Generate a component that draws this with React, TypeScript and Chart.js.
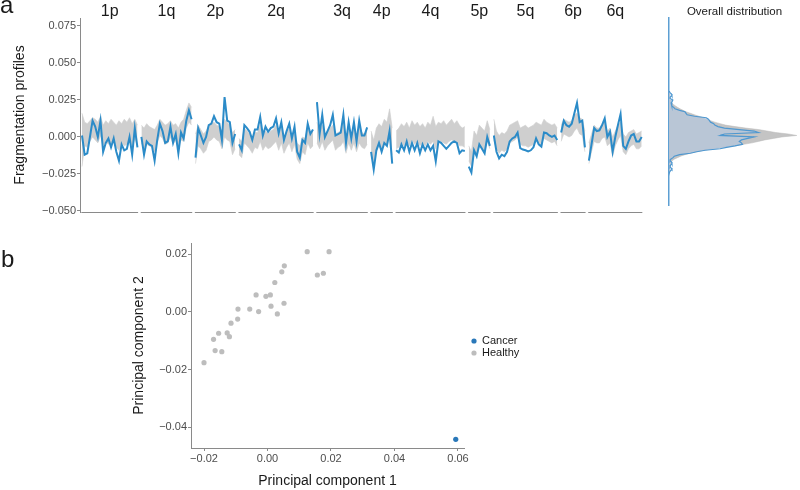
import React, { useEffect, useRef } from 'react';
import { Chart, registerables } from 'chart.js';

Chart.register(...registerables);

// ---------------- DATA ----------------
const arms = ['1p', '1q', '2p', '2q', '3q', '4p', '4q', '5p', '5q', '6p', '6q'];

// Cancer fragmentation profile, one list of bins per chromosome arm
const cancerProfile: number[][] = [
  [0.001, -0.012, -0.011, 0.000, 0.011, 0.007, 0.000, 0.011, -0.010, -0.004, -0.001, -0.007, -0.001, -0.010, -0.016, -0.005, -0.009, -0.008, 0.000, -0.012, 0.006, -0.007],
  [0.000, -0.012, -0.003, -0.005, -0.006, -0.016, -0.002, 0.009, 0.004, -0.004, -0.003, 0.007, -0.004, 0.002, -0.011, 0.003, -0.001, 0.011, 0.018, 0.012],
  [-0.014, 0.006, 0.001, -0.004, 0.000, 0.008, 0.009, 0.014, 0.010, 0.009, -0.002, 0.027, 0.011, 0.010, -0.004, 0.002],
  [-0.005, -0.009, 0.008, 0.006, 0.0035, -0.002, 0.005, 0.005, 0.0135, 0.001, 0.007, 0.0035, 0.006, 0.007, 0.0125, 0.0025, 0.010, -0.002, 0.004, 0.009, -0.001, 0.007, -0.010, -0.014, -0.002, -0.004, 0.009, 0.002, 0.005],
  [0.0235, 0.002, 0.015, 0.000, 0.004, 0.008, 0.015, 0.001, 0.002, 0.003, 0.015, -0.004, 0.010, -0.001, 0.010, -0.003, 0.011, 0.001, 0.001, 0.0065],
  [-0.010, -0.022, -0.009, -0.004, -0.010, -0.004, -0.006, 0.004, -0.018],
  [-0.009, -0.0105, -0.005, -0.009, -0.003, -0.010, -0.004, -0.009, -0.004, -0.011, -0.005, -0.009, -0.005, -0.009, -0.006, -0.0165, -0.003, -0.004, -0.006, -0.008, -0.006, -0.004, -0.003, -0.004, -0.011, -0.009, -0.0095],
  [-0.020, -0.024, -0.009, -0.013, -0.005, -0.008, -0.011, 0.000, -0.006],
  [0.001, -0.010, -0.0145, -0.012, -0.013, -0.010, -0.003, -0.001, 0.000, 0.003, -0.0075, -0.0085, -0.009, -0.0098, -0.009, -0.007, -0.001, -0.005, -0.0065, 0.003, 0.0025, 0.001, 0.000, 0.001, -0.002],
  [0.003, 0.011, 0.008, 0.007, 0.009, 0.016, 0.023, 0.010, 0.011, -0.007],
  [-0.016, -0.005, 0.006, 0.004, 0.0045, 0.008, 0.0125, 0.000, 0.0035, -0.010, 0.000, 0.008, 0.0155, -0.006, -0.008, -0.003, 0.001, 0.002, -0.003, -0.003, 0.000],
];

// Upper edge of the healthy samples' profiles
const healthyMax: number[][] = [
  [0.016, 0.010, 0.009, 0.011, 0.013, 0.012, 0.010, 0.014, 0.008, 0.011, 0.009, 0.012, 0.010, 0.008, 0.011, 0.009, 0.012, 0.010, 0.013, 0.009, 0.012, 0.008],
  [0.008, 0.006, 0.009, 0.007, 0.006, 0.005, 0.008, 0.012, 0.010, 0.008, 0.009, 0.011, 0.008, 0.009, 0.006, 0.010, 0.012, 0.018, 0.023, 0.020],
  [0.002, 0.008, 0.005, 0.002, 0.004, 0.008, 0.009, 0.010, 0.008, 0.007, 0.004, 0.012, 0.010, 0.008, 0.003, 0.005],
  [-0.001, -0.003, 0.006, 0.004, 0.002, 0.000, 0.003, 0.003, 0.008, 0.001, 0.004, 0.002, 0.004, 0.005, 0.008, 0.001, 0.006, 0.000, 0.003, 0.006, 0.000, 0.005, -0.004, -0.006, 0.000, -0.001, 0.006, 0.002, 0.004],
  [0.010, 0.003, 0.008, 0.002, 0.004, 0.006, 0.008, 0.002, 0.003, 0.004, 0.009, 0.000, 0.006, 0.001, 0.006, 0.000, 0.007, 0.003, 0.002, 0.005],
  [0.004, -0.002, 0.006, 0.009, 0.007, 0.012, 0.010, 0.019, 0.006],
  [0.004, 0.006, 0.009, 0.007, 0.010, 0.006, 0.011, 0.008, 0.010, 0.007, 0.009, 0.006, 0.010, 0.008, 0.014, 0.007, 0.010, 0.009, 0.011, 0.008, 0.010, 0.012, 0.009, 0.011, 0.008, 0.006, 0.007],
  [-0.006, -0.010, 0.004, 0.001, 0.008, 0.006, 0.004, 0.011, 0.005],
  [0.012, 0.004, 0.001, 0.003, 0.002, 0.004, 0.008, 0.009, 0.010, 0.011, 0.006, 0.007, 0.008, 0.006, 0.007, 0.008, 0.010, 0.009, 0.008, 0.012, 0.010, 0.009, 0.008, 0.009, 0.006],
  [0.008, 0.012, 0.011, 0.010, 0.011, 0.015, 0.016, 0.013, 0.012, 0.004],
  [-0.004, 0.002, 0.008, 0.006, 0.006, 0.009, 0.010, 0.004, 0.006, 0.000, 0.004, 0.008, 0.010, 0.002, 0.000, 0.003, 0.004, 0.005, 0.002, 0.003, 0.004],
];

// Lower edge of the healthy samples' profiles
const healthyMin: number[][] = [
  [-0.020, -0.006, -0.007, -0.003, 0.000, -0.002, -0.004, 0.001, -0.006, -0.003, -0.005, -0.004, -0.002, -0.007, -0.009, -0.004, -0.006, -0.005, -0.002, -0.007, -0.001, -0.006],
  [-0.004, -0.008, -0.005, -0.006, -0.007, -0.010, -0.004, 0.001, -0.001, -0.005, -0.004, 0.000, -0.005, -0.002, -0.008, -0.002, -0.003, 0.006, 0.010, 0.008],
  [-0.018, -0.006, -0.008, -0.011, -0.009, -0.003, -0.002, 0.000, -0.002, -0.003, -0.008, 0.000, -0.002, -0.003, -0.012, -0.008],
  [-0.012, -0.014, -0.004, -0.006, -0.008, -0.011, -0.007, -0.008, -0.003, -0.009, -0.006, -0.008, -0.007, -0.005, -0.003, -0.009, -0.004, -0.011, -0.007, -0.004, -0.010, -0.005, -0.015, -0.018, -0.010, -0.012, -0.004, -0.008, -0.006],
  [-0.004, -0.008, -0.003, -0.009, -0.006, -0.004, -0.002, -0.009, -0.007, -0.006, -0.003, -0.011, -0.004, -0.009, -0.004, -0.010, -0.004, -0.007, -0.008, -0.005],
  [-0.012, -0.018, -0.010, -0.006, -0.009, -0.004, -0.006, 0.000, -0.012],
  [-0.008, -0.007, -0.004, -0.006, -0.002, -0.006, -0.002, -0.005, -0.003, -0.006, -0.004, -0.006, -0.003, -0.005, -0.003, -0.008, -0.002, -0.003, -0.004, -0.005, -0.003, -0.002, -0.003, -0.003, -0.006, -0.006, -0.007],
  [-0.016, -0.020, -0.010, -0.013, -0.006, -0.008, -0.010, -0.003, -0.008],
  [-0.002, -0.008, -0.011, -0.009, -0.010, -0.008, -0.004, -0.003, -0.002, 0.000, -0.005, -0.006, -0.006, -0.007, -0.006, -0.005, -0.002, -0.004, -0.005, -0.001, -0.002, -0.003, -0.004, -0.003, -0.006],
  [-0.003, 0.002, 0.001, 0.000, 0.001, 0.004, 0.006, 0.002, 0.001, -0.010],
  [-0.018, -0.010, -0.003, -0.004, -0.004, -0.001, 0.000, -0.006, -0.004, -0.013, -0.006, -0.002, 0.001, -0.010, -0.012, -0.008, -0.006, -0.005, -0.008, -0.008, -0.006],
];

const profileTicks = [-0.05, -0.025, 0, 0.025, 0.05, 0.075];
// spacing (in bins) between the last bin of one arm and the first bin of the next
const armGap = 1.5;

// Overall distribution (density of profile values)
const densityGrid = [
  0.031, 0.030, 0.029, 0.028, 0.027, 0.026, 0.025, 0.024, 0.023, 0.022, 0.021, 0.020, 0.019, 0.018, 0.017, 0.016,
  0.015, 0.014, 0.013, 0.012, 0.011, 0.010, 0.009, 0.008, 0.007, 0.006, 0.005, 0.004, 0.003, 0.002, 0.001, 0.000,
  -0.001, -0.002, -0.003, -0.004, -0.005, -0.006, -0.007, -0.008, -0.009, -0.010, -0.011, -0.012, -0.013, -0.014,
  -0.015, -0.016, -0.017, -0.018, -0.019, -0.020, -0.021, -0.022, -0.023, -0.024, -0.025,
];
const healthyDensity = [
  0, 0, 0.1, 0.2, 0.3, 0.4, 0.5, 0.8, 1.4, 2, 3, 4, 5.2, 6.6, 8, 10,
  12, 14, 16, 17.5, 19.5, 21.5, 24, 26.5, 31, 36, 42, 46, 50, 56, 60, 53,
  49, 45, 42, 39, 35, 31, 26, 21, 16.5, 13, 10, 7.5, 5.5, 4,
  2.5, 1.6, 1.1, 0.8, 0.6, 0.4, 0.3, 0.2, 0.1, 0, 0,
];
const cancerDensity = [
  0, 0.5, 1.2, 1.4, 0.6, 0.5, 1.8, 1.5, 1.0, 1.2, 1.4, 2.2, 2.8, 5, 7.5, 8,
  8.5, 12, 17.5, 18.5, 19, 19.5, 21, 21.5, 23, 26, 33, 40, 42, 26, 24, 40,
  37, 34, 33, 34, 34.5, 31, 27, 24, 17, 13, 10, 5, 2.5, 1.9,
  0.8, 0.5, 1.2, 1.4, 0.8, 0.5, 1.0, 1.4, 0.6, 0.2, 0,
];

// PCA
const pc1Healthy = [-0.0200, -0.0170, -0.0165, -0.0154, -0.0144, -0.0127, -0.0120, -0.0115, -0.0094, -0.0093, -0.0056, -0.0036, -0.0028, -0.0005, 0.0009, 0.0011, 0.0023, 0.0031, 0.0045, 0.0053, 0.0052, 0.0125, 0.0157, 0.0176, 0.0194];
const pc2Healthy = [-0.0176, -0.0095, -0.0134, -0.0074, -0.0138, -0.0073, -0.0086, -0.0039, -0.0025, 0.0010, 0.0010, 0.0059, 0.0001, 0.0054, 0.0059, 0.0020, 0.0102, -0.0007, 0.0139, 0.0160, 0.0030, 0.0209, 0.0128, 0.0134, 0.0209];
const pc1Cancer = [0.0593];
const pc2Cancer = [-0.0442];
const pcTicksX = [-0.02, 0, 0.02, 0.04, 0.06];
const pcTicksY = [-0.04, -0.02, 0, 0.02];
const groupNames = ['Cancer', 'Healthy'];

// ---------------- STYLE ----------------
const FONT = "'Liberation Sans', Arial, Helvetica, sans-serif";
const AXIS = '#8a8a8a';
const TICK_TEXT = '#4d4d4d';
const BLUE = '#2b8bc8';
const BAND = '#cfcfcf';
const DOT_BLUE = '#2a78b9';
const DOT_GRAY = '#bdbdbd';

Chart.defaults.font.family = FONT;

function fmt(v: number, d: number): string {
  const s = Math.abs(v).toFixed(d);
  return v < -1e-12 ? '\u2212' + s : s;
}

// bin position of the first bin of each arm
const armStarts: number[] = [];
{
  let pos = 0;
  cancerProfile.forEach((a) => {
    armStarts.push(pos);
    pos += a.length - 1 + armGap;
  });
}
const lastBin = armStarts[armStarts.length - 1] + cancerProfile[cancerProfile.length - 1].length - 1;

export default function App() {
  const mainRef = useRef<HTMLCanvasElement>(null);
  const densRef = useRef<HTMLCanvasElement>(null);
  const pcaRef = useRef<HTMLCanvasElement>(null);

  useEffect(() => {
    const charts: Chart[] = [];

    // ---------- main profile chart ----------
    const bandSets: any[] = [];
    arms.forEach((_, a) => {
      bandSets.push({
        data: healthyMax[a].map((v, j) => ({ x: armStarts[a] + j, y: v })),
        borderColor: BAND,
        borderWidth: 0.6,
        backgroundColor: BAND,
        pointRadius: 0,
        fill: '+1',
        order: 2,
      });
      bandSets.push({
        data: healthyMin[a].map((v, j) => ({ x: armStarts[a] + j, y: v })),
        borderColor: BAND,
        borderWidth: 0.6,
        pointRadius: 0,
        fill: false,
        order: 2,
      });
    });
    const cancerSets = arms.map((_, a) => ({
      data: cancerProfile[a].map((v, j) => ({ x: armStarts[a] + j, y: v })),
      borderColor: BLUE,
      borderWidth: 2,
      pointRadius: 0,
      fill: false,
      order: 1,
    }));

    const armDecor = {
      id: 'armDecor',
      afterDraw(chart: any) {
        const { ctx, chartArea, scales } = chart;
        const x = scales.x;
        ctx.save();
        ctx.strokeStyle = AXIS;
        ctx.lineWidth = 1;
        arms.forEach((arm, a) => {
          const s = armStarts[a];
          const e = s + cancerProfile[a].length - 1;
          const x0 = x.getPixelForValue(s - 0.25);
          const x1 = x.getPixelForValue(e + 0.25);
          ctx.beginPath();
          ctx.moveTo(x0, chartArea.bottom + 0.5);
          ctx.lineTo(x1, chartArea.bottom + 0.5);
          ctx.stroke();
          ctx.fillStyle = '#1a1a1a';
          ctx.font = `16px ${FONT}`;
          ctx.textAlign = 'center';
          ctx.textBaseline = 'middle';
          ctx.fillText(arm, (x0 + x1) / 2, 12);
        });
        ctx.fillStyle = '#1a1a1a';
        ctx.font = `24px ${FONT}`;
        ctx.textAlign = 'left';
        ctx.textBaseline = 'alphabetic';
        ctx.fillText('a', 0, 13);
        ctx.restore();
      },
    };

    charts.push(
      new Chart(mainRef.current!, {
        type: 'line',
        data: { datasets: [...bandSets, ...cancerSets] },
        options: {
          animation: false,
          responsive: false,
          events: [],
          layout: { padding: { left: 0, top: 18, right: 12, bottom: 18 } },
          plugins: { legend: { display: false }, tooltip: { enabled: false } },
          elements: { line: { tension: 0 } },
          scales: {
            x: { type: 'linear', min: -0.76, max: lastBin + 0.5, display: false },
            y: {
              type: 'linear',
              min: -0.0507,
              max: 0.0804,
              afterBuildTicks: (s: any) => {
                s.ticks = profileTicks.map((v) => ({ value: v }));
              },
              afterFit: (s: any) => {
                s.width = 80;
              },
              ticks: {
                callback: (v: any) => fmt(Number(v), 3),
                color: TICK_TEXT,
                font: { size: 11 },
                padding: 1,
              },
              grid: { drawOnChartArea: false, drawTicks: true, tickLength: 3, tickColor: AXIS },
              border: { display: true, color: AXIS, width: 1 },
              title: {
                display: true,
                text: 'Fragmentation profiles',
                color: '#1a1a1a',
                font: { size: 14 },
                padding: { top: 12, bottom: 0 },
              },
            },
          },
        } as any,
        plugins: [armDecor],
      })
    );

    // ---------- overall distribution ----------
    const densTitle = {
      id: 'densTitle',
      afterDraw(chart: any) {
        const { ctx, chartArea } = chart;
        ctx.save();
        ctx.fillStyle = '#1a1a1a';
        ctx.font = `11.5px ${FONT}`;
        ctx.textAlign = 'center';
        ctx.textBaseline = 'middle';
        ctx.fillText('Overall distribution', (chartArea.left + chartArea.right) / 2, 12);
        ctx.restore();
      },
    };

    charts.push(
      new Chart(densRef.current!, {
        type: 'line',
        data: {
          datasets: [
            {
              data: densityGrid.map((v, i) => ({ x: healthyDensity[i], y: v })),
              borderColor: 'rgba(185,185,185,1)',
              borderWidth: 0.5,
              backgroundColor: 'rgba(190,190,190,0.9)',
              pointRadius: 0,
              fill: 'origin',
              order: 2,
            },
            {
              data: densityGrid.map((v, i) => ({ x: cancerDensity[i], y: v })),
              borderColor: '#4f98d0',
              borderWidth: 1.2,
              backgroundColor: 'rgba(170,200,235,0.45)',
              pointRadius: 0,
              fill: 'origin',
              order: 1,
            },
          ],
        },
        options: {
          animation: false,
          responsive: false,
          events: [],
          indexAxis: 'y',
          layout: { padding: { left: 0, top: 18, right: 0, bottom: 25 } },
          plugins: { legend: { display: false }, tooltip: { enabled: false } },
          elements: { line: { tension: 0 } },
          scales: {
            x: { type: 'linear', min: 0, max: 61.5, display: false },
            y: {
              type: 'linear',
              min: -0.046,
              max: 0.0804,
              afterFit: (s: any) => {
                s.width = 14;
              },
              ticks: { display: false },
              grid: { display: false },
              border: { display: true, color: '#5d9fd3', width: 1.5 },
            },
          },
        } as any,
        plugins: [densTitle],
      })
    );

    // ---------- PCA scatter ----------
    const pcaDecor = {
      id: 'pcaDecor',
      afterDraw(chart: any) {
        const { ctx, chartArea } = chart;
        ctx.save();
        const mid = (chartArea.top + chartArea.bottom) / 2 + 1.5;
        const colors = [DOT_BLUE, DOT_GRAY];
        groupNames.forEach((name, i) => {
          const cy = mid + (i - 0.5) * 12;
          const cx = chartArea.right + 10;
          ctx.fillStyle = colors[i];
          ctx.beginPath();
          ctx.arc(cx, cy, 2.6, 0, Math.PI * 2);
          ctx.fill();
          ctx.fillStyle = '#1a1a1a';
          ctx.font = `11px ${FONT}`;
          ctx.textAlign = 'left';
          ctx.textBaseline = 'middle';
          ctx.fillText(name, cx + 8, cy);
        });
        ctx.fillStyle = '#1a1a1a';
        ctx.font = `24px ${FONT}`;
        ctx.textAlign = 'left';
        ctx.textBaseline = 'alphabetic';
        ctx.fillText('b', 1, 37);
        ctx.restore();
      },
    };

    charts.push(
      new Chart(pcaRef.current!, {
        type: 'scatter',
        data: {
          datasets: [
            {
              label: groupNames[0],
              data: pc1Cancer.map((v, i) => ({ x: v, y: pc2Cancer[i] })),
              backgroundColor: DOT_BLUE,
              borderWidth: 0,
              pointRadius: 2.6,
            },
            {
              label: groupNames[1],
              data: pc1Healthy.map((v, i) => ({ x: v, y: pc2Healthy[i] })),
              backgroundColor: DOT_GRAY,
              borderWidth: 0,
              pointRadius: 2.6,
            },
          ],
        },
        options: {
          animation: false,
          responsive: false,
          events: [],
          layout: { padding: { left: 120, top: 13, right: 96, bottom: 0 } },
          plugins: { legend: { display: false }, tooltip: { enabled: false } },
          scales: {
            x: {
              type: 'linear',
              min: -0.0241,
              max: 0.0619,
              afterBuildTicks: (s: any) => {
                s.ticks = pcTicksX.map((v) => ({ value: v }));
              },
              afterFit: (s: any) => {
                s.height = 42;
              },
              ticks: {
                callback: (v: any) => fmt(Number(v), 2),
                color: TICK_TEXT,
                font: { size: 11 },
                padding: 1,
                maxRotation: 0,
              },
              grid: { drawOnChartArea: false, drawTicks: true, tickLength: 3, tickColor: AXIS },
              border: { display: true, color: AXIS, width: 1 },
              title: {
                display: true,
                text: 'Principal component 1',
                color: '#1a1a1a',
                font: { size: 14 },
                padding: { top: 0, bottom: 0 },
              },
            },
            y: {
              type: 'linear',
              min: -0.0472,
              max: 0.0239,
              afterBuildTicks: (s: any) => {
                s.ticks = pcTicksY.map((v) => ({ value: v }));
              },
              afterFit: (s: any) => {
                s.width = 71;
              },
              ticks: {
                callback: (v: any) => fmt(Number(v), 2),
                color: TICK_TEXT,
                font: { size: 11 },
                padding: 1,
              },
              grid: { drawOnChartArea: false, drawTicks: true, tickLength: 3, tickColor: AXIS },
              border: { display: true, color: AXIS, width: 1 },
              title: {
                display: true,
                text: 'Principal component 2',
                color: '#1a1a1a',
                font: { size: 14 },
                padding: { top: 11, bottom: 0 },
              },
            },
          },
        } as any,
        plugins: [pcaDecor],
      })
    );

    return () => {
      charts.forEach((c) => c.destroy());
    };
  }, []);

  return (
    <div style={{ position: 'absolute', left: 0, top: 0, width: 800, height: 490, background: '#ffffff' }}>
      <canvas ref={mainRef} width={655} height={230} style={{ position: 'absolute', left: 0, top: 0 }} />
      <canvas ref={densRef} width={145} height={230} style={{ position: 'absolute', left: 655, top: 0 }} />
      <canvas ref={pcaRef} width={560} height={260} style={{ position: 'absolute', left: 0, top: 230 }} />
    </div>
  );
}
